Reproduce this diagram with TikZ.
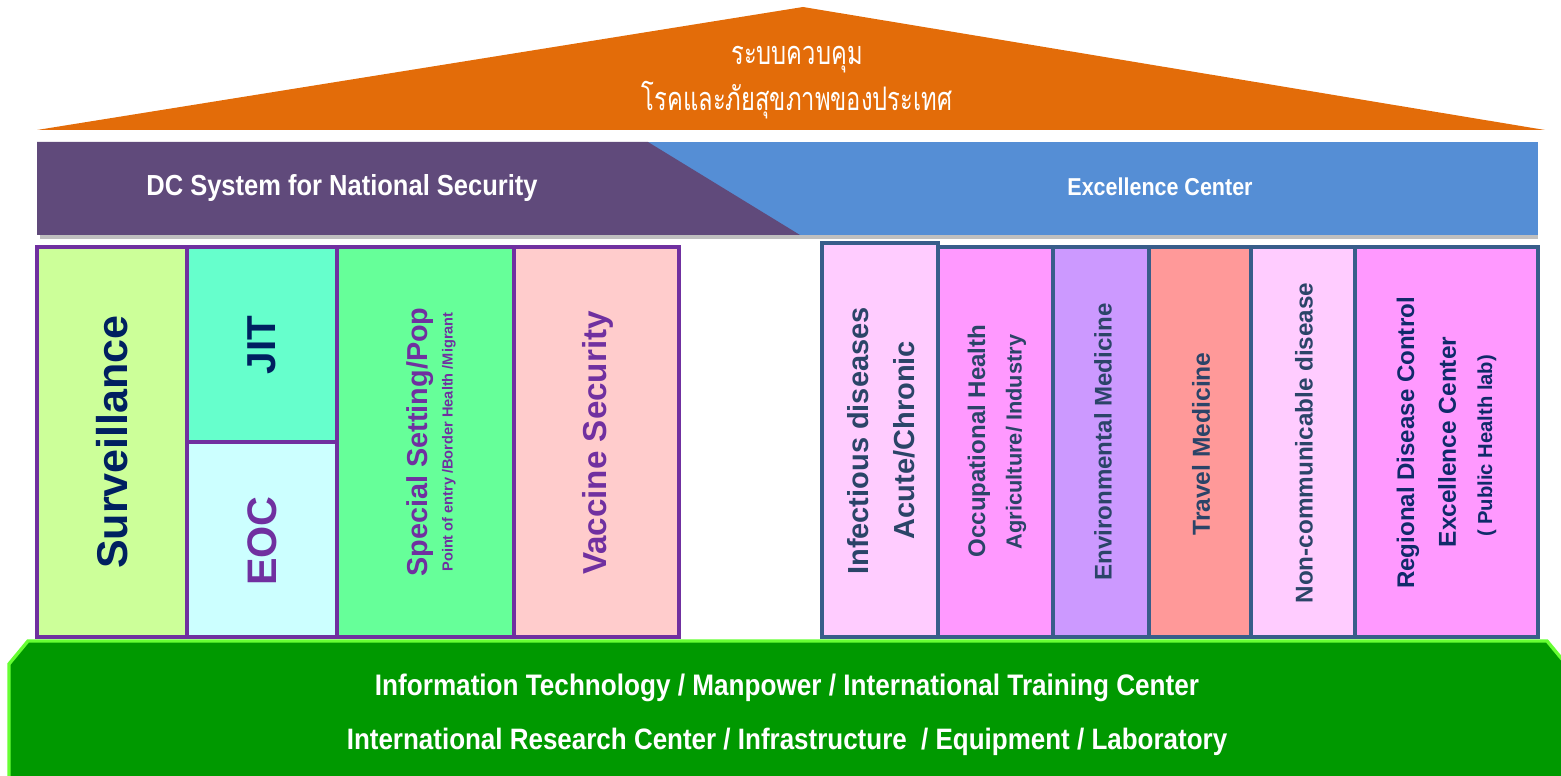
\documentclass[tikz,border=0pt]{standalone}
\usepackage{fontspec}
\setmainfont{Liberation Sans}
\newfontfamily\narrowfont[FakeStretch=0.88]{Liberation Sans}
\newfontfamily\thaifont[Script=Thai,FakeStretch=0.73]{Loma}
\usetikzlibrary{positioning}
\newcommand{\fsz}[1]{\fontsize{#1}{#1}\selectfont}

\definecolor{roof}{HTML}{E36C09}
\definecolor{dcpurple}{HTML}{604A7B}
\definecolor{exblue}{HTML}{558ED5}
\definecolor{lborder}{HTML}{7030A0}
\definecolor{rborder}{HTML}{385D8A}
\definecolor{navy}{HTML}{002060}
\definecolor{slate}{HTML}{2B4468}
\definecolor{rnavy}{HTML}{102A6A}
\definecolor{basegreen}{HTML}{009900}
\definecolor{baseedge}{HTML}{66FF33}

\begin{document}
\begin{tikzpicture}[x=0.02cm,y=-0.02cm]
\tikzstyle{lpil}=[draw=lborder,line width=1.9pt]
\tikzstyle{rpil}=[draw=rborder,line width=1.9pt]
\tikzstyle{vtext}=[rotate=90,inner sep=0pt,font=\bfseries]
\tikzstyle{wtext}=[text=white,inner sep=0pt,font=\narrowfont\bfseries]

\useasboundingbox (0,0) rectangle (1561,776);

% roof
\fill[roof] (37,130) -- (803,7) -- (1545,130) -- cycle;
\node[text=white,inner sep=0pt,font=\thaifont\fsz{18.5}] (th1) at (797,60) {ระบบควบคุม};
\node[text=white,inner sep=0pt,font=\thaifont\fsz{18.5}] (th2) at (797,100) {โรคและภัยสุขภาพของประเทศ};

% banner
\fill[black!25] (40,235) rectangle (1538,239);
\fill[exblue] (648,142) rectangle (1538,235);
\fill[dcpurple] (37,142) -- (648,142) -- (800,235) -- (37,235) -- cycle;
\node[wtext,font=\narrowfont\bfseries\fsz{16.5}] (dc) at (342,188) {DC System for National Security};
\node[wtext,font=\narrowfont\bfseries\fsz{13.9}] (ex) at (1160,187) {Excellence Center};

% left pillars
\draw[lpil,fill={rgb,255:red,204;green,255;blue,153}] (37,247) rectangle (187,637);
\draw[lpil,fill={rgb,255:red,102;green,255;blue,204}] (187,247) rectangle (337,442);
\draw[lpil,fill={rgb,255:red,204;green,255;blue,255}] (187,442) rectangle (337,637);
\draw[lpil,fill={rgb,255:red,102;green,255;blue,153}] (337,247) rectangle (514,637);
\draw[lpil,fill={rgb,255:red,255;green,204;blue,204}] (514,247) rectangle (679,637);

\node[vtext,text=navy,font=\bfseries\fsz{24.5}] (surv) at (112,442) {Surveillance};
\node[vtext,text=navy,font=\bfseries\fsz{23}] (jit) at (262,345) {JIT};
\node[vtext,text=lborder,font=\bfseries\fsz{23.5}] (eoc) at (262,541) {EOC};
\node[vtext,text=lborder,font=\bfseries\fsz{16.4}] (spec) at (420,442) {Special Setting/Pop};
\node[vtext,text=lborder,font=\bfseries\fsz{8.3}] (poe) at (449,442) {Point of entry /Border Health /Migrant};
\node[vtext,text=lborder,font=\bfseries\fsz{18.9}] (vac) at (598,443) {Vaccine Security};

% right pillars
\draw[rpil,fill={rgb,255:red,255;green,153;blue,255}] (938,247) rectangle (1053,637);
\draw[rpil,fill={rgb,255:red,204;green,153;blue,255}] (1053,247) rectangle (1149,637);
\draw[rpil,fill={rgb,255:red,255;green,153;blue,153}] (1149,247) rectangle (1251,637);
\draw[rpil,fill={rgb,255:red,255;green,204;blue,255}] (1251,247) rectangle (1355,637);
\draw[rpil,fill={rgb,255:red,255;green,153;blue,255}] (1355,247) rectangle (1538,637);
\draw[rpil,line width=2.2pt,fill={rgb,255:red,255;green,204;blue,255}] (822,243) rectangle (938,637);

\node[vtext,text=slate,font=\bfseries\fsz{16.5}] (inf) at (858,441) {Infectious  diseases};
\node[vtext,text=slate,font=\bfseries\fsz{16.5}] (acu) at (904,440) {Acute/Chronic};
\node[vtext,text=slate,font=\bfseries\fsz{13.7}] (occ) at (979,441) {Occupational Health};
\node[vtext,text=slate,font=\bfseries\fsz{12.4}] (agr) at (1016,442) {Agriculture/ Industry};
\node[vtext,text=slate,font=\bfseries\fsz{13.7}] (env) at (1103,442) {Environmental Medicine};
\node[vtext,text=slate,font=\bfseries\fsz{14}] (trv) at (1201,444) {Travel Medicine};
\node[vtext,text=slate,font=\bfseries\fsz{13.8}] (ncd) at (1304,443) {Non-communicable disease};
\node[vtext,text=rnavy,font=\bfseries\fsz{13.7}] (reg) at (1408,443) {Regional Disease Control};
\node[vtext,text=rnavy,font=\bfseries\fsz{13.9}] (exc) at (1447,442) {Excellence Center};
\node[vtext,text=rnavy,font=\bfseries\fsz{11.5}] (phl) at (1487,446) {( Public Health lab)};

% base
\draw[draw=baseedge,line width=1.9pt,fill=basegreen]
  (9,780) -- (9,664) -- (28,641) -- (1547,641) -- (1566,664) -- (1566,780) -- cycle;
\node[wtext,font=\narrowfont\bfseries\fsz{16.9}] (it) at (787,688) {Information Technology / Manpower / International Training Center};
\node[wtext,font=\narrowfont\bfseries\fsz{16.8}] (irc) at (787,742) {International Research Center / Infrastructure\ \ / Equipment / Laboratory};
\end{tikzpicture}
\end{document}
